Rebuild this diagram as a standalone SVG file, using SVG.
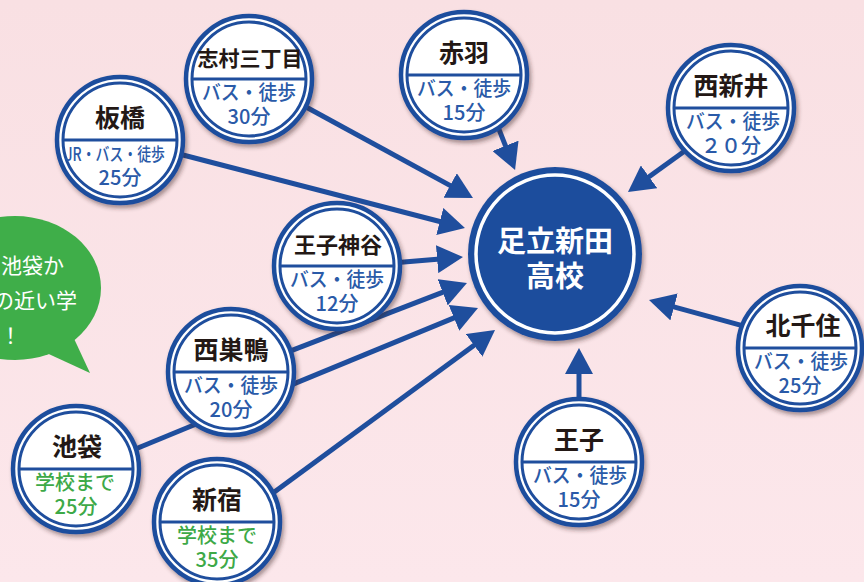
<svg xmlns="http://www.w3.org/2000/svg" width="864" height="582" viewBox="0 0 864 582">
<defs>
<linearGradient id="bg" x1="0" y1="0" x2="0" y2="1">
<stop offset="0" stop-color="#f9e0e3"/>
<stop offset="1" stop-color="#fce7eb"/>
</linearGradient>
<filter id="sh" x="-20%" y="-20%" width="150%" height="150%">
<feDropShadow dx="2" dy="3" stdDeviation="2" flood-color="#3a2020" flood-opacity="0.45"/>
</filter>
<marker id="ah" viewBox="0 0 26 28" refX="6" refY="14" markerWidth="26" markerHeight="28" markerUnits="userSpaceOnUse" orient="auto">
<path d="M0,0 L26,14 L0,28 z" fill="#1f4e9d"/>
</marker>
<style>
.ring{fill:#fff;stroke:#1f4e9d;stroke-width:4.5}
.inner{fill:none;stroke:#1f4e9d;stroke-width:3}
.div{stroke:#1f4e9d;stroke-width:3}
.nm{font-family:"Noto Sans CJK JP","Noto Sans",sans-serif;font-weight:700;fill:#231815;text-anchor:middle}
.ctr{font-family:"Noto Sans CJK JP","Noto Sans",sans-serif;font-weight:700;font-size:29px;fill:#fff;text-anchor:middle}
.sub{font-family:"Noto Sans CJK JP","Noto Sans",sans-serif;font-weight:500;font-size:20px;fill:#2a5aa8;text-anchor:middle}
.grn{fill:#3da947}
.con line{stroke:#1f4e9d;stroke-width:5;marker-end:url(#ah)}
.bub{font-family:"Noto Sans CJK JP",sans-serif;font-weight:400;font-size:21px;fill:#fff;text-anchor:end}
</style>
</defs>
<rect width="864" height="582" fill="url(#bg)"/>
<g id="bubble">
<ellipse cx="15" cy="288" rx="86" ry="72" fill="#3fae49"/>
<path d="M40,350 L90,373 L70,330 z" fill="#3fae49"/>
<text class="bub" x="64" y="273">池袋か</text>
<text class="bub" x="77" y="308">の近い学</text>
<text class="bub" x="21" y="343">す！</text>
</g>
<g id="connectors" class="con">
<line x1="497.1" y1="124.6" x2="507.7" y2="151.4"/>
<line x1="688.5" y1="148.3" x2="644.2" y2="180.3"/>
<line x1="747.7" y1="327.1" x2="668.3" y2="305.3"/>
<line x1="579" y1="405" x2="579" y2="368"/>
<line x1="301" y1="104.2" x2="455.4" y2="188.4"/>
<line x1="175.3" y1="153" x2="445.6" y2="223"/>
<line x1="395" y1="262.7" x2="443.1" y2="258.7"/>
<line x1="285.5" y1="352.9" x2="448.3" y2="290.2"/>
<line x1="130.6" y1="451" x2="459.5" y2="315.6"/>
<line x1="270.6" y1="494.7" x2="478.9" y2="341.8"/>
</g>
<g id="school">
<circle cx="555" cy="254" r="87" fill="#1f4e9d" filter="url(#sh)"/>
<circle cx="555" cy="254" r="79" fill="none" stroke="#fff" stroke-width="3.5"/>
<text class="ctr" x="555" y="252">足立新田</text>
<text class="ctr" x="555" y="287">高校</text>
</g>
<g id="n-akabane">
<circle class="ring" cx="464" cy="75" r="63" filter="url(#sh)"/>
<circle class="inner" cx="464" cy="75" r="57"/>
<line class="div" x1="407" y1="75" x2="521" y2="75"/>
<text class="nm" x="464" y="62" font-size="25">赤羽</text>
<text class="sub" x="464" y="96" textLength="94" lengthAdjust="spacingAndGlyphs">バス・徒歩</text>
<text class="sub" x="464" y="120">15分</text>
</g>
<g id="n-shimura">
<circle class="ring" cx="249" cy="79" r="63" filter="url(#sh)"/>
<circle class="inner" cx="249" cy="79" r="57"/>
<line class="div" x1="192" y1="79" x2="306" y2="79"/>
<text class="nm" x="250" y="66" font-size="21">志村三丁目</text>
<text class="sub" x="249" y="100" textLength="94" lengthAdjust="spacingAndGlyphs">バス・徒歩</text>
<text class="sub" x="249" y="124">30分</text>
</g>
<g id="n-itabashi">
<circle class="ring" cx="120" cy="140" r="63" filter="url(#sh)"/>
<circle class="inner" cx="120" cy="140" r="57"/>
<line class="div" x1="63" y1="140" x2="177" y2="140"/>
<text class="nm" x="120" y="127" font-size="25">板橋</text>
<text class="sub" x="115" y="161" textLength="100" lengthAdjust="spacingAndGlyphs" style="font-size:18px">JR・バス・徒歩</text>
<text class="sub" x="120" y="185">25分</text>
</g>
<g id="n-nishiarai">
<circle class="ring" cx="731" cy="108" r="63" filter="url(#sh)"/>
<circle class="inner" cx="731" cy="108" r="57"/>
<line class="div" x1="674" y1="108" x2="788" y2="108"/>
<text class="nm" x="731" y="95" font-size="25">西新井</text>
<text class="sub" x="733" y="129" textLength="94" lengthAdjust="spacingAndGlyphs">バス・徒歩</text>
<text class="sub" x="731" y="153">２０分</text>
</g>
<g id="n-ojikamiya">
<circle class="ring" cx="337" cy="266" r="63" filter="url(#sh)"/>
<circle class="inner" cx="337" cy="266" r="57"/>
<line class="div" x1="280" y1="266" x2="394" y2="266"/>
<text class="nm" x="338" y="253" font-size="22">王子神谷</text>
<text class="sub" x="337" y="287" textLength="94" lengthAdjust="spacingAndGlyphs">バス・徒歩</text>
<text class="sub" x="337" y="311">12分</text>
</g>
<g id="n-ikebukuro">
<circle class="ring" cx="76" cy="469" r="63" filter="url(#sh)"/>
<circle class="inner" cx="76" cy="469" r="57"/>
<line class="div" x1="19" y1="469" x2="133" y2="469"/>
<text class="nm" x="77" y="456" font-size="25">池袋</text>
<text class="sub grn" x="75" y="490">学校まで</text>
<text class="sub grn" x="76" y="514">25分</text>
</g>
<g id="n-nishisugamo">
<circle class="ring" cx="231" cy="372" r="63" filter="url(#sh)"/>
<circle class="inner" cx="231" cy="372" r="57"/>
<line class="div" x1="174" y1="372" x2="288" y2="372"/>
<text class="nm" x="231" y="359" font-size="25">西巣鴨</text>
<text class="sub" x="231" y="393" textLength="94" lengthAdjust="spacingAndGlyphs">バス・徒歩</text>
<text class="sub" x="231" y="417">20分</text>
</g>
<g id="n-shinjuku">
<circle class="ring" cx="217" cy="522" r="63" filter="url(#sh)"/>
<circle class="inner" cx="217" cy="522" r="57"/>
<line class="div" x1="160" y1="522" x2="274" y2="522"/>
<text class="nm" x="217" y="509" font-size="25">新宿</text>
<text class="sub grn" x="217" y="543">学校まで</text>
<text class="sub grn" x="217" y="567">35分</text>
</g>
<g id="n-kitasenju">
<circle class="ring" cx="800" cy="348" r="62" filter="url(#sh)"/>
<circle class="inner" cx="800" cy="348" r="56"/>
<line class="div" x1="744" y1="348" x2="856" y2="348"/>
<text class="nm" x="803" y="335" font-size="25">北千住</text>
<text class="sub" x="801" y="369" textLength="94" lengthAdjust="spacingAndGlyphs">バス・徒歩</text>
<text class="sub" x="800" y="393">25分</text>
</g>
<g id="n-oji">
<circle class="ring" cx="579" cy="462" r="63" filter="url(#sh)"/>
<circle class="inner" cx="579" cy="462" r="57"/>
<line class="div" x1="522" y1="462" x2="636" y2="462"/>
<text class="nm" x="579" y="449" font-size="25">王子</text>
<text class="sub" x="580" y="483" textLength="94" lengthAdjust="spacingAndGlyphs">バス・徒歩</text>
<text class="sub" x="579" y="507">15分</text>
</g>
</svg>
